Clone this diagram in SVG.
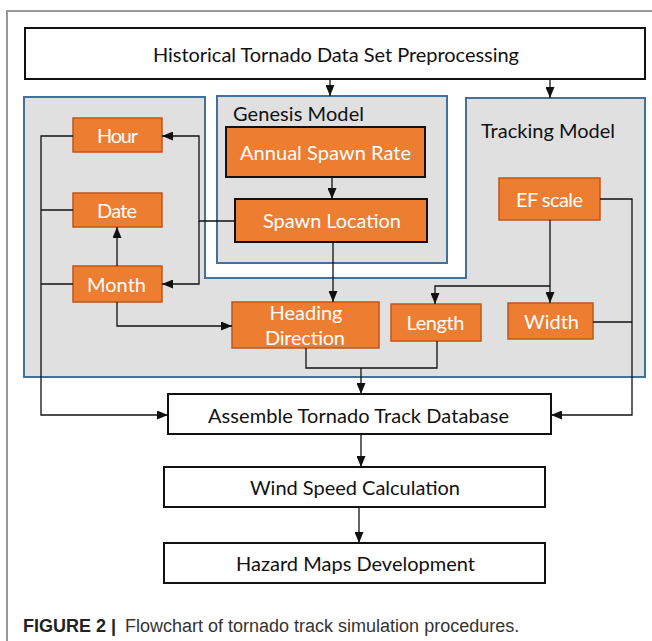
<svg xmlns="http://www.w3.org/2000/svg" width="652" height="641" viewBox="0 0 652 641">
<style>
.t{font-family:Lato,"Open Sans","Liberation Sans",sans-serif;font-size:20px;fill:#111;text-anchor:middle}
.w{fill:#fff}
.box{fill:#fff;stroke:#111;stroke-width:2}
.org{fill:#ED7D31;stroke:#C0561A;stroke-width:1.5}
.gen{fill:#ED7D31;stroke:#111;stroke-width:2}
.pan{fill:#E0E0E0;stroke:#41719C;stroke-width:2}
.c{fill:none;stroke:#111;stroke-width:1.3}
.cap{font-family:"Liberation Sans",Arial,sans-serif;font-size:18px;fill:#333}
</style>
<defs>
<marker id="ah" markerUnits="userSpaceOnUse" markerWidth="11" markerHeight="9" refX="11" refY="4.5" orient="auto">
<path d="M0,0 L11,4.5 L0,9 z" fill="#111"/>
</marker>
</defs>
<rect width="652" height="641" fill="#fff"/>
<path d="M652,11 H7 V641" fill="none" stroke="#999" stroke-width="2"/>

<g id="panels">
<path class="pan" d="M24,97 H205 V278 H466 V98 H645 V377 H24 Z"/>
<rect class="pan" x="217" y="96" width="230" height="167"/>
<text class="t" x="233" y="121" style="text-anchor:start" textLength="131">Genesis Model</text>
<text class="t" x="481" y="138" style="text-anchor:start" textLength="134">Tracking Model</text>
</g>

<g id="n-top"><rect class="box" x="25" y="28" width="620" height="51"/>
<text class="t" x="336" y="62" textLength="366">Historical Tornado Data Set Preprocessing</text></g>

<g id="n-annual"><rect class="gen" x="226" y="127" width="199" height="50"/>
<text class="t w" x="325.5" y="160" textLength="171">Annual Spawn Rate</text></g>

<g id="n-spawn"><rect class="gen" x="235" y="199" width="192" height="43"/>
<text class="t w" x="332" y="228" textLength="138">Spawn Location</text></g>

<g id="n-hour"><rect class="org" x="73" y="118" width="89" height="34"/>
<text class="t w" x="117.5" y="143" textLength="41">Hour</text></g>

<g id="n-date"><rect class="org" x="73" y="193" width="89" height="34"/>
<text class="t w" x="117" y="218" textLength="40">Date</text></g>

<g id="n-month"><rect class="org" x="73" y="266" width="89" height="36"/>
<text class="t w" x="116.5" y="292" textLength="59">Month</text></g>

<g id="n-ef"><rect class="org" x="499" y="178" width="101" height="42"/>
<text class="t w" x="549.5" y="207" textLength="67">EF scale</text></g>

<g id="n-heading"><rect class="org" x="232" y="302" width="147" height="46"/>
<text class="t w" x="306" y="320" textLength="73">Heading</text>
<text class="t w" x="305" y="345" textLength="80">Direction</text></g>

<g id="n-length"><rect class="org" x="391" y="304" width="90" height="37"/>
<text class="t w" x="435.5" y="330" textLength="58">Length</text></g>

<g id="n-width"><rect class="org" x="508" y="303" width="85" height="36"/>
<text class="t w" x="551.5" y="329" textLength="55">Width</text></g>

<g id="n-assemble"><rect class="box" x="168" y="394" width="383" height="40"/>
<text class="t" x="358.5" y="423" textLength="301">Assemble Tornado Track Database</text></g>

<g id="n-wind"><rect class="box" x="164" y="467" width="381" height="40"/>
<text class="t" x="355" y="495" textLength="210">Wind Speed Calculation</text></g>

<g id="n-hazard"><rect class="box" x="164" y="543" width="381" height="40"/>
<text class="t" x="355.5" y="571" textLength="239">Hazard Maps Development</text></g>

<g id="connectors">
<path class="c" d="M330,79 V96" marker-end="url(#ah)"/>
<path class="c" d="M550,79 V98" marker-end="url(#ah)"/>
<path class="c" d="M332,177 V199" marker-end="url(#ah)"/>
<path class="c" d="M333,242 V302" marker-end="url(#ah)"/>
<path class="c" d="M235,221 H199 V136 H162" marker-end="url(#ah)"/>
<path class="c" d="M199,221 V284 H162" marker-end="url(#ah)"/>
<path class="c" d="M117,266 V227" marker-end="url(#ah)"/>
<path class="c" d="M117,302 V326 H232" marker-end="url(#ah)"/>
<path class="c" d="M73,136 H41 V415 H168" marker-end="url(#ah)"/>
<path class="c" d="M41,210 H73 M41,284 H73"/>
<path class="c" d="M550,220 V303" marker-end="url(#ah)"/>
<path class="c" d="M550,286 H435 V304" marker-end="url(#ah)"/>
<path class="c" d="M600,199 H632 V415 H551" marker-end="url(#ah)"/>
<path class="c" d="M593,322 H632"/>
<path class="c" d="M306,348 V368 H437 V341"/>
<path class="c" d="M361,368 V394" marker-end="url(#ah)"/>
<path class="c" d="M361,434 V467" marker-end="url(#ah)"/>
<path class="c" d="M359,507 V543" marker-end="url(#ah)"/>
</g>

<text class="cap" x="23" y="632"><tspan font-weight="bold" fill="#222">FIGURE 2 |</tspan><tspan x="125">Flowchart of tornado track simulation procedures.</tspan></text>
</svg>
